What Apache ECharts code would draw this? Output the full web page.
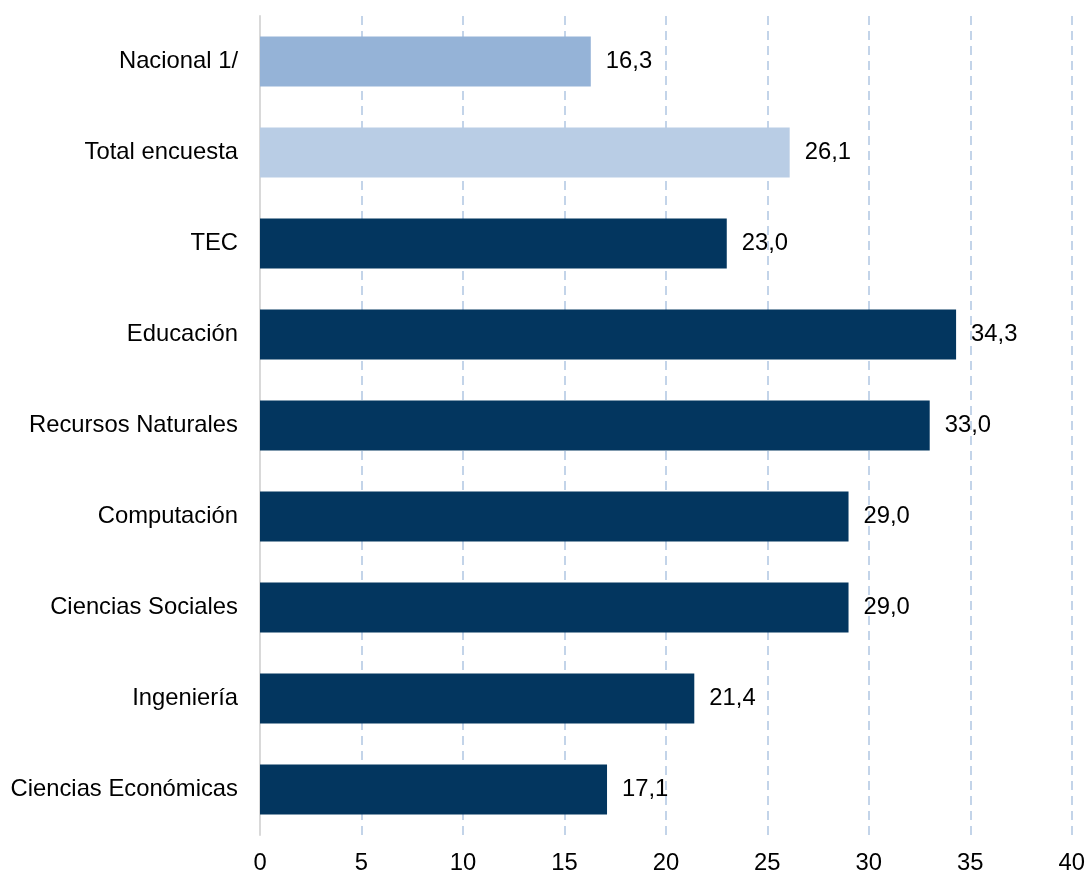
<!DOCTYPE html>
<html><head><meta charset="utf-8">
<script src="https://cdn.jsdelivr.net/npm/echarts@6/dist/echarts.min.js"></script>
<style>html,body{margin:0;padding:0;background:#fff}#c{width:1088px;height:875px}</style>
</head><body><div id="c"></div>
<script>
const categories = ["Nacional 1/","Total encuesta","TEC","Educación","Recursos Naturales","Computación","Ciencias Sociales","Ingeniería","Ciencias Económicas"];
const values = [16.3, 26.1, 23.0, 34.3, 33.0, 29.0, 29.0, 21.4, 17.1];
const barColors = ["#95b3d7","#b9cde5","#03365f","#03365f","#03365f","#03365f","#03365f","#03365f","#03365f"];
const xTicks = [0,5,10,15,20,25,30,35,40];

const chart = echarts.init(document.getElementById('c'), null, {renderer:'canvas'});
const font = "'Liberation Sans', Arial, sans-serif";
chart.setOption({
  animation:false,
  grid:{left:260,right:15,top:16,bottom:39,containLabel:false},
  xAxis:{type:'value',min:xTicks[0],max:xTicks[xTicks.length-1],interval:5,
    axisLine:{show:false},axisTick:{show:false},
    axisLabel:{color:'#000',fontFamily:font,fontSize:23.8,margin:16,
      formatter:v=>xTicks.includes(v)?String(v):''},
    splitLine:{show:true,lineStyle:{color:'#b0c6e2',type:[9,6],width:1.5}}},
  yAxis:{type:'category',data:categories,inverse:true,
    axisLine:{show:true,lineStyle:{color:'#d9d9d9',width:2}},axisTick:{show:false},
    axisLabel:{color:'#000',fontFamily:font,fontSize:23.8,margin:22}},
  series:[{type:'bar',barWidth:50,
    data:values.map((v,i)=>({value:v,itemStyle:{color:barColors[i]}})),
    label:{show:true,position:'right',distance:15,color:'#000',fontFamily:font,fontSize:23.8,
      formatter:p=>p.value.toFixed(1).replace('.',',')}}]
});
</script></body></html>
